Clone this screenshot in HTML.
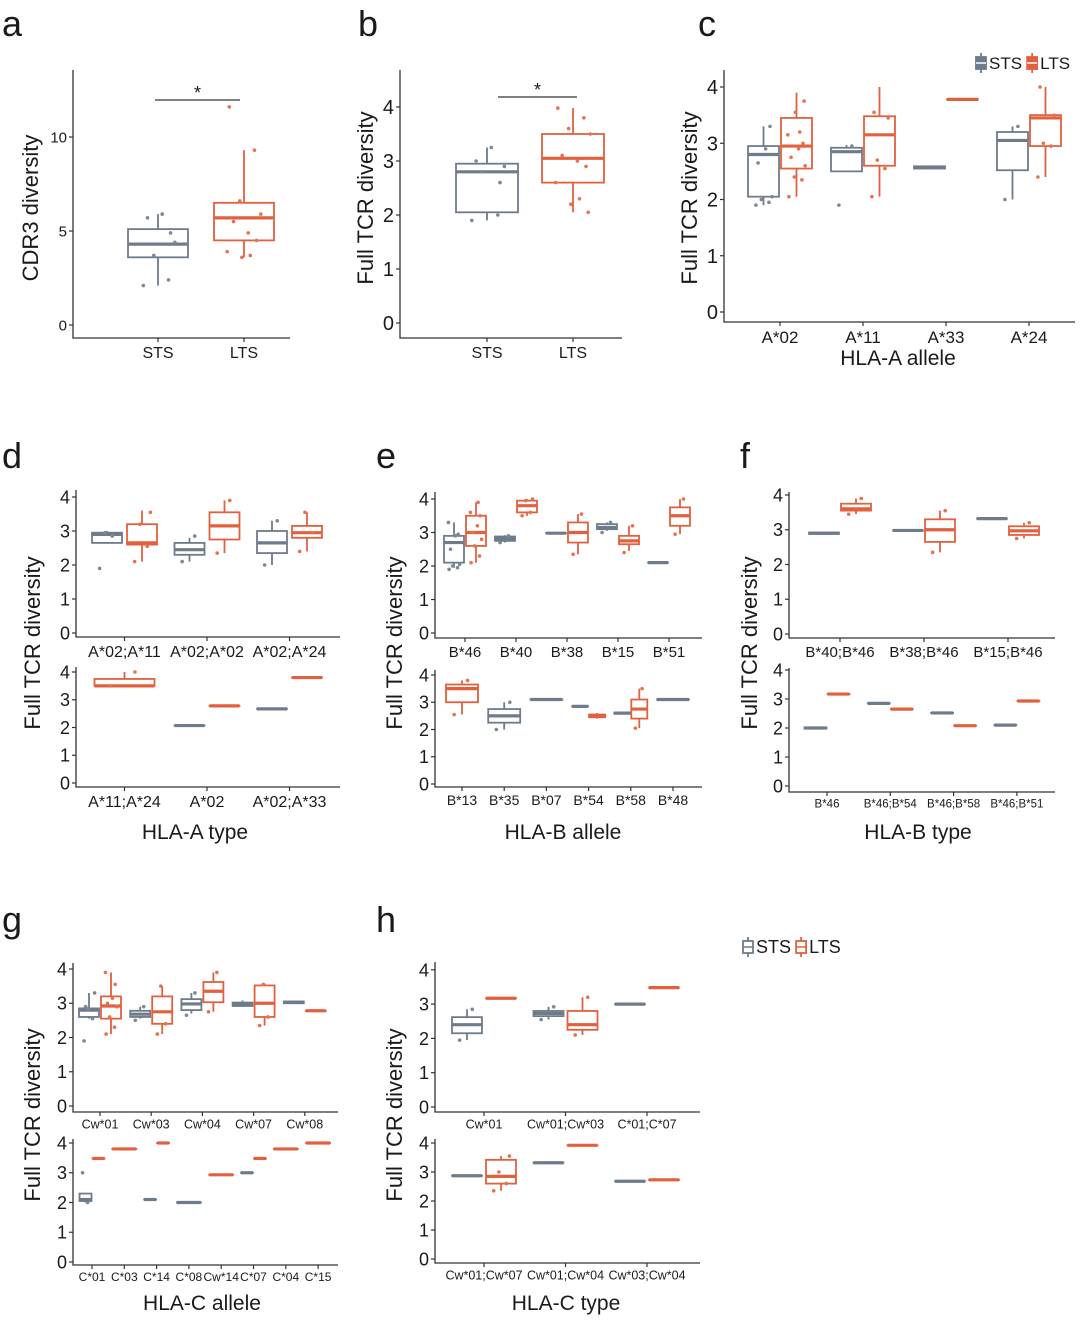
<!DOCTYPE html>
<html><head><meta charset="utf-8">
<style>
html,body{margin:0;padding:0;background:#fff;}
svg{display:block;font-family:"Liberation Sans",Arial,sans-serif;}
</style></head>
<body>
<svg id="fig" width="1080" height="1321" viewBox="0 0 1080 1321"></svg>
<script>
// ===== DATA =====
// stats rows: [categoryIndex, group(0=STS,1=LTS), lo, q1, median, q3, hi]
const aCats = ["STS","LTS"];
const aStats = [[0,0,2.1,3.6,4.3,5.1,5.9],[1,1,3.6,4.5,5.7,6.5,9.3]];
const aPts = [[2.1,2.4,3.7,4.4,5.7,5.9,4.9],[11.6,9.3,6.6,5.9,5.5,4.9,4.5,3.9,3.7,3.6]];
const aTicks = [0,5,10];

const bCats = ["STS","LTS"];
const bStats = [[0,0,1.9,2.05,2.8,2.95,3.25],[1,1,2.05,2.6,3.05,3.5,3.98]];
const bPts = [[1.9,2.0,2.8,2.9,3.0,3.25,2.6],[3.98,3.8,3.6,3.5,3.1,3.0,2.9,2.6,2.3,2.2,2.05]];
const tcrTicks = [0,1,2,3,4];

const cCats = ["A*02","A*11","A*33","A*24"];
const cStats = [[0,0,1.9,2.05,2.8,2.95,3.3],[0,1,2.05,2.55,2.95,3.45,3.9],[1,0,2.5,2.5,2.85,2.92,2.97],[1,1,2.05,2.6,3.15,3.48,4.0],[2,0,2.54,2.55,2.57,2.59,2.6],[2,1,3.78,3.78,3.78,3.78,3.78],[3,0,2.0,2.52,3.05,3.2,3.3],[3,1,2.4,2.95,3.45,3.5,4.0]];
const cPts = [[1.9,1.95,2.0,2.05,2.65,2.9,3.3],[2.05,2.35,2.4,2.6,2.75,2.9,3.0,3.15,3.2,3.55,3.75],[1.9,2.95],[2.05,2.55,2.7,3.45,3.55],[],[],[2.0,3.3],[2.4,2.95,3.0,3.5,4.0]];

const dTopCats = ["A*02;A*11","A*02;A*02","A*02;A*24"];
const dTopStats = [[0,0,2.65,2.65,2.9,2.95,3.0],[0,1,2.1,2.6,2.65,3.2,3.6],[1,0,2.1,2.3,2.45,2.65,2.8],[1,1,2.35,2.75,3.15,3.55,3.9],[2,0,2.0,2.35,2.65,3.0,3.3],[2,1,2.4,2.8,2.95,3.15,3.55]];
const dTopPts = [[1.9,2.85,2.95],[2.1,2.55,3.2,3.55],[2.1,2.85],[2.35,3.9],[2.0,3.3],[2.4,2.95,3.55]];
const dBotCats = ["A*11;A*24","A*02","A*02;A*33"];
const dBotStats = [[0,1,3.5,3.5,3.5,3.75,4.0],[1,0,2.07,2.07,2.07,2.07,2.07],[1,1,2.78,2.78,2.78,2.78,2.78],[2,0,2.67,2.67,2.67,2.67,2.67],[2,1,3.8,3.8,3.8,3.8,3.8]];
const dBotPts = [[3.5,4.0],[],[],[],[]];

const eTopCats = ["B*46","B*40","B*38","B*15","B*51"];
const eTopStats = [[0,0,1.95,2.1,2.7,2.9,3.3],[0,1,2.1,2.6,3.0,3.5,3.9],[1,0,2.7,2.75,2.82,2.88,2.92],[1,1,3.5,3.6,3.8,3.95,4.0],[2,0,2.98,2.98,2.98,2.98,2.98],[2,1,2.35,2.7,3.0,3.3,3.55],[3,0,3.05,3.1,3.15,3.25,3.3],[3,1,2.45,2.65,2.75,2.9,3.2],[4,0,2.1,2.1,2.1,2.1,2.1],[4,1,2.95,3.2,3.5,3.75,4.0]];
const eTopPts = [[1.9,1.95,2.0,2.05,2.5,2.9,2.95,3.3],[2.1,2.3,2.6,2.8,3.0,3.2,3.5,3.6,3.9],[2.7,2.9],[3.5,3.6,3.95,4.0],[],[2.35,3.55],[3.0,3.3],[2.4,3.2],[],[2.95,4.0]];
const eBotCats = ["B*13","B*35","B*07","B*54","B*58","B*48"];
const eBotStats = [[0,1,2.55,3.0,3.5,3.65,3.8],[1,0,2.0,2.25,2.5,2.75,3.0],[2,0,3.1,3.1,3.1,3.1,3.1],[3,0,2.85,2.85,2.85,2.85,2.85],[3,1,2.4,2.45,2.5,2.55,2.6],[4,0,2.55,2.58,2.6,2.62,2.65],[4,1,2.05,2.4,2.75,3.1,3.5],[5,0,3.1,3.1,3.1,3.1,3.1]];
const eBotPts = [[2.55,3.8],[2.0,3.0],[],[],[],[],[2.05,3.5],[]];

const fTopCats = ["B*40;B*46","B*38;B*46","B*15;B*46"];
const fTopStats = [[0,0,2.85,2.88,2.9,2.92,2.95],[0,1,3.45,3.55,3.6,3.75,3.9],[1,0,2.98,2.98,2.98,2.98,2.98],[1,1,2.35,2.65,3.0,3.3,3.55],[2,0,3.32,3.32,3.32,3.32,3.32],[2,1,2.75,2.85,2.97,3.1,3.2]];
const fTopPts = [[],[3.45,3.9],[],[2.35,3.55],[],[2.75,3.2]];
const fBotCats = ["B*46","B*46;B*54","B*46;B*58","B*46;B*51"];
const fBotStats = [[0,0,1.95,1.98,2.0,2.02,2.05],[0,1,3.17,3.17,3.17,3.17,3.17],[1,0,2.85,2.85,2.85,2.85,2.85],[1,1,2.65,2.65,2.65,2.65,2.65],[2,0,2.52,2.52,2.52,2.52,2.52],[2,1,2.08,2.08,2.08,2.08,2.08],[3,0,2.1,2.1,2.1,2.1,2.1],[3,1,2.93,2.93,2.93,2.93,2.93]];
const fBotPts = [[],[],[],[],[],[],[],[]];

const gTopCats = ["Cw*01","Cw*03","Cw*04","Cw*07","Cw*08"];
const gTopStats = [[0,0,2.55,2.6,2.8,2.85,3.3],[0,1,2.1,2.55,2.92,3.2,3.9],[1,0,2.55,2.6,2.68,2.78,2.9],[1,1,2.1,2.4,2.75,3.2,3.5],[2,0,2.7,2.8,2.98,3.12,3.3],[2,1,2.75,3.03,3.35,3.62,3.9],[3,0,2.9,2.92,2.97,3.02,3.08],[3,1,2.35,2.6,3.0,3.52,3.58],[4,0,2.98,3.0,3.03,3.05,3.08],[4,1,2.78,2.78,2.78,2.78,2.78]];
const gTopPts = [[1.9,2.55,2.85,3.3,2.9],[2.1,2.3,2.6,2.9,3.0,3.15,3.55,3.9],[2.5,2.9],[2.1,2.4,3.5],[2.65,3.3],[2.75,3.9],[],[2.35,2.6,3.55],[],[]];
const gBotCats = ["C*01","C*03","C*14","C*08","Cw*14","C*07","C*04","C*15"];
const gBotStats = [[0,0,2.0,2.05,2.1,2.3,2.3],[0,1,3.48,3.48,3.48,3.48,3.48],[1,1,3.8,3.8,3.8,3.8,3.8],[2,0,2.1,2.1,2.1,2.1,2.1],[2,1,4.0,4.0,4.0,4.0,4.0],[3,0,2.0,2.0,2.0,2.0,2.0],[4,1,2.93,2.93,2.93,2.93,2.93],[5,0,3.0,3.0,3.0,3.0,3.0],[5,1,3.48,3.48,3.48,3.48,3.48],[6,1,3.8,3.8,3.8,3.8,3.8],[7,1,4.0,4.0,4.0,4.0,4.0]];
const gBotPts = [[3.0,2.0],[],[],[],[],[],[],[],[],[],[]];

const hTopCats = ["Cw*01","Cw*01;Cw*03","C*01;C*07"];
const hTopStats = [[0,0,1.95,2.15,2.4,2.62,2.85],[0,1,3.17,3.17,3.17,3.17,3.17],[1,0,2.55,2.65,2.73,2.8,2.92],[1,1,2.1,2.25,2.4,2.8,3.2],[2,0,3.0,3.0,3.0,3.0,3.0],[2,1,3.48,3.48,3.48,3.48,3.48]];
const hTopPts = [[1.95,2.85],[],[2.55,2.92],[2.1,3.2],[],[]];
const hBotCats = ["Cw*01;Cw*07","Cw*01;Cw*04","Cw*03;Cw*04"];
const hBotStats = [[0,0,2.87,2.87,2.87,2.87,2.87],[0,1,2.35,2.6,2.85,3.42,3.55],[1,0,3.32,3.32,3.32,3.32,3.32],[1,1,3.92,3.92,3.92,3.92,3.92],[2,0,2.68,2.68,2.68,2.68,2.68],[2,1,2.73,2.73,2.73,2.73,2.73]];
const hBotPts = [[],[2.35,2.6,3.0,3.55],[],[],[],[]];

// ===== RENDER =====
const NS = "http://www.w3.org/2000/svg";
const svg = document.getElementById("fig");
const COL = ["#6e7b8a","#e2603e"];
const PCOL = ["#7d8896","#e5734f"];
function mk(tag, attrs, parent){
  const e = document.createElementNS(NS, tag);
  for (const k in attrs) e.setAttribute(k, attrs[k]);
  (parent||svg).appendChild(e);
  return e;
}
function txt(s, x, y, size, anchor, parent, rot){
  const t = mk("text", {x:x, y:y, "font-size":size, "text-anchor":anchor||"middle", fill:"#1a1a1a"}, parent);
  if (rot) t.setAttribute("transform", "rotate(-90 "+x+" "+y+")");
  t.textContent = s;
  return t;
}
const JIT = [-0.35,0.25,-0.1,0.4,-0.25,0.1,0.3,-0.4,0.15,-0.05,0.35];

function drawPanel(id, cfg, cats, stats, pts, ticks){
  const g = mk("g", {});
  
  
  const y = v => cfg.y0 - v*cfg.unit;
  const xc = i => cfg.x0 + i*cfg.step;
  const ax = mk("path", {d:"M"+cfg.ax+" "+cfg.top+" V"+cfg.bottom+" H"+cfg.right, stroke:"#333", "stroke-width":1.3, fill:"none"}, g);
  
  
  ticks.forEach(t => {
    mk("line", {x1:cfg.ax-4, x2:cfg.ax, y1:y(t), y2:y(t), stroke:"#333", "stroke-width":1.2}, g);
    const lb = txt(String(t), cfg.ax-6, y(t)+cfg.tf*0.36, cfg.tf, "end", g);
    
    
  });
  cats.forEach((c,i) => {
    mk("line", {x1:xc(i), x2:xc(i), y1:cfg.bottom, y2:cfg.bottom+4, stroke:"#333", "stroke-width":1.2}, g);
    const lb = txt(c, xc(i), cfg.bottom+4+cfg.cf, cfg.cf, "middle", g);
    
    
  });
  stats.forEach((s, k) => {
    const [ci, grp, lo, q1, med, q3, hi] = s;
    const n = stats.filter(r => r[0]===ci).length;
    let cx, w;
    if (n === 1) { cx = xc(ci); w = 2*cfg.bw; }
    else { cx = xc(ci) + (grp===0 ? -cfg.dodge : cfg.dodge); w = cfg.bw; }
    const bg = mk("g", {}, g);
    
    
    const col = COL[grp];
    mk("line", {x1:cx, x2:cx, y1:y(hi), y2:y(q3), stroke:col, "stroke-width":1.8}, bg);
    mk("line", {x1:cx, x2:cx, y1:y(q1), y2:y(lo), stroke:col, "stroke-width":1.8}, bg);
    mk("rect", {x:cx-w/2, y:y(q3), width:w, height:Math.max(0.01,y(q1)-y(q3)), fill:"#fff", stroke:col, "stroke-width":1.8}, bg);
    mk("line", {x1:cx-w/2, x2:cx+w/2, y1:y(med), y2:y(med), stroke:col, "stroke-width":3.2}, bg);
    (pts[k]||[]).forEach((p, j) => {
      mk("circle", {cx:cx + JIT[j%JIT.length]*w*0.7, cy:y(p), r:1.8, fill:PCOL[grp]}, bg);
    });
  });
  return g;
}

const L = {
 a:{ax:73,top:70,bottom:338,right:290,y0:325,unit:18.8,x0:158,step:86,bw:30,dodge:0,tf:15,cf:16},
 b:{ax:400,top:70,bottom:338,right:622,y0:323,unit:54,x0:487,step:86,bw:31,dodge:0,tf:20,cf:16},
 c:{ax:724,top:70,bottom:322,right:1075,y0:312,unit:56.25,x0:780,step:83,bw:31,dodge:16.5,tf:20,cf:17},
 dT:{ax:76,top:490,bottom:637,right:340,y0:633,unit:34,x0:124.5,step:82.5,bw:30,dodge:17.5,tf:18,cf:16},
 dB:{ax:76,top:667,bottom:787,right:340,y0:783,unit:27.75,x0:124.5,step:82.5,bw:30,dodge:17.5,tf:18,cf:16},
 eT:{ax:435,top:492,bottom:638,right:702,y0:633,unit:33.5,x0:465,step:51,bw:20,dodge:11,tf:18,cf:15},
 eB:{ax:435,top:670,bottom:787,right:702,y0:784,unit:27.25,x0:462,step:42.2,bw:16,dodge:8.5,tf:18,cf:14},
 fT:{ax:789,top:492,bottom:638,right:1055,y0:634,unit:34.75,x0:840,step:84,bw:30,dodge:16,tf:18,cf:15},
 fB:{ax:789,top:668,bottom:792,right:1055,y0:786,unit:29,x0:827,step:63.3,bw:22,dodge:11.5,tf:18,cf:11.5},
 gT:{ax:73,top:963,bottom:1112,right:338,y0:1106,unit:34.25,x0:100,step:51.2,bw:20,dodge:11,tf:18,cf:12.5},
 gB:{ax:73,top:1139,bottom:1265,right:338,y0:1262,unit:29.75,x0:92,step:32.3,bw:12,dodge:6.5,tf:18,cf:12},
 hT:{ax:435,top:962,bottom:1112,right:700,y0:1107,unit:34.3,x0:484,step:81.5,bw:30,dodge:17,tf:18,cf:12.5},
 hB:{ax:435,top:1139,bottom:1263,right:700,y0:1259,unit:29,x0:484,step:81.5,bw:30,dodge:17,tf:18,cf:12.5}
};

drawPanel("panel-a", L.a, aCats, aStats, aPts, aTicks);
drawPanel("panel-b", L.b, bCats, bStats, bPts, tcrTicks);
drawPanel("panel-c", L.c, cCats, cStats, cPts, tcrTicks);
drawPanel("panel-d-top", L.dT, dTopCats, dTopStats, dTopPts, tcrTicks);
drawPanel("panel-d-bottom", L.dB, dBotCats, dBotStats, dBotPts, tcrTicks);
drawPanel("panel-e-top", L.eT, eTopCats, eTopStats, eTopPts, tcrTicks);
drawPanel("panel-e-bottom", L.eB, eBotCats, eBotStats, eBotPts, tcrTicks);
drawPanel("panel-f-top", L.fT, fTopCats, fTopStats, fTopPts, tcrTicks);
drawPanel("panel-f-bottom", L.fB, fBotCats, fBotStats, fBotPts, tcrTicks);
drawPanel("panel-g-top", L.gT, gTopCats, gTopStats, gTopPts, tcrTicks);
drawPanel("panel-g-bottom", L.gB, gBotCats, gBotStats, gBotPts, tcrTicks);
drawPanel("panel-h-top", L.hT, hTopCats, hTopStats, hTopPts, tcrTicks);
drawPanel("panel-h-bottom", L.hB, hBotCats, hBotStats, hBotPts, tcrTicks);

[[155,240,100,93],[498,577,97,90]].forEach(s => {
  const l = mk("line", {x1:s[0], x2:s[1], y1:s[2], y2:s[2], stroke:"#333", "stroke-width":1.2});
  
  
  const t = txt("*", (s[0]+s[1])/2, s[3]+6, 18, "middle");
  
  
});

[["a",2,36],["b",358,36],["c",698,36],["d",2,468],["e",376,468],["f",740,468],["g",2,932],["h",376,932]].forEach(p => {
  const t = txt(p[0], p[1], p[2], 36, "start");
  
  
});

[["CDR3 diversity",38,208],["Full TCR diversity",373,198],["Full TCR diversity",697,198],["Full TCR diversity",40,643],["Full TCR diversity",402,643],["Full TCR diversity",757,643],["Full TCR diversity",40,1115],["Full TCR diversity",402,1115]].forEach(p => {
  const t = txt(p[0], p[1], p[2], 22, "middle", svg, true);
  
  
});
[["HLA-A allele",898,365],["HLA-A type",195,839],["HLA-B allele",563,839],["HLA-B type",918,839],["HLA-C allele",202,1310],["HLA-C type",566,1310]].forEach(p => {
  const t = txt(p[0], p[1], p[2], 21, "middle");
  
  
});

function legend(x, y, filled, size){
  const g = mk("g", {});
  
  
  const items = [["STS",0],["LTS",1]];
  let cx = x;
  items.forEach(it => {
    const col = COL[it[1]];
    const eg = mk("g", {}, g);
    
    
    mk("line", {x1:cx+6, x2:cx+6, y1:y-10, y2:y+10, stroke:col, "stroke-width":1.8}, eg);
    mk("rect", {x:cx+1, y:y-6, width:10, height:12, fill: filled?col:"#fff", stroke:col, "stroke-width":1.8}, eg);
    mk("line", {x1:cx+1, x2:cx+11, y1:y, y2:y, stroke: filled?"#fff":col, "stroke-width":1.5}, eg);
    txt(it[0], cx+14, y+6, size, "start", eg);
    cx += 14 + size*1.95 + 4;
  });
}
legend(975, 63, true, 17);
legend(742, 947, false, 18);
</script>
</body></html>
